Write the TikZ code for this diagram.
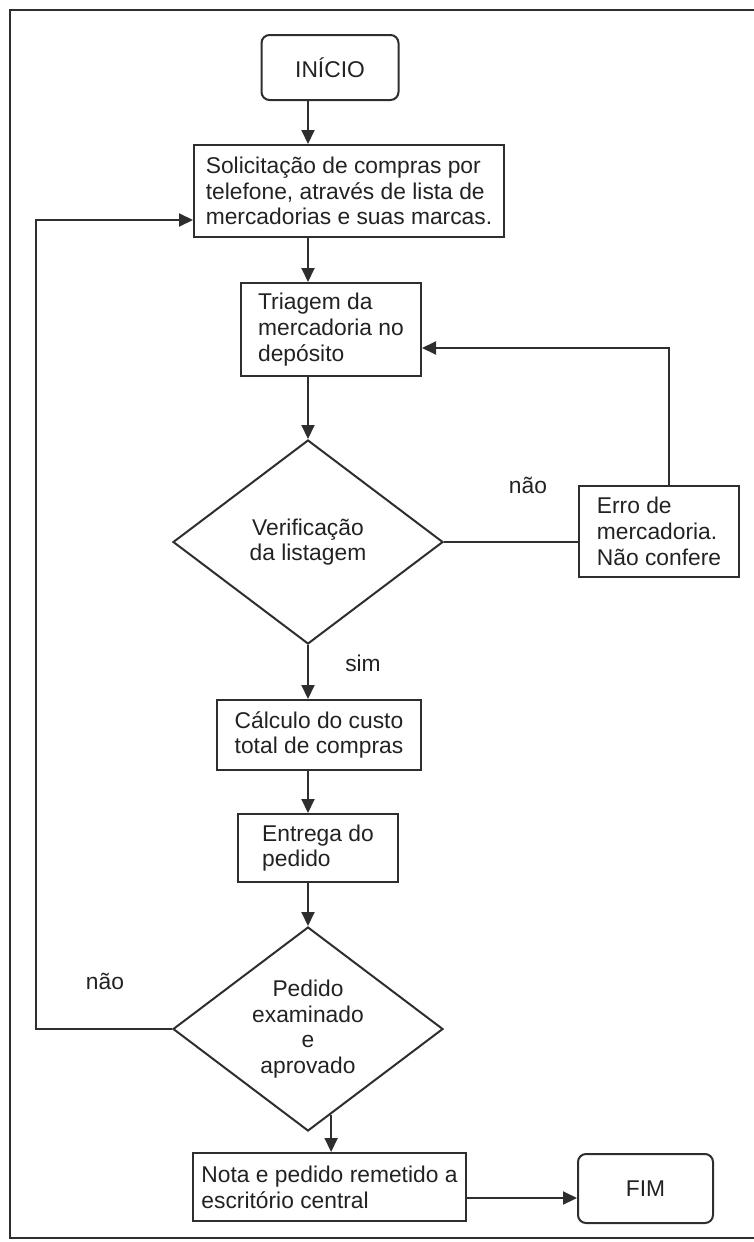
\documentclass[tikz,border=0pt]{standalone}
\usepackage{fontspec}
\setmainfont{Liberation Sans}
\usetikzlibrary{shapes.geometric,arrows.meta,calc}
\definecolor{cinza}{HTML}{2E2E2E}
\definecolor{tinta}{HTML}{222222}
\begin{document}
\begin{tikzpicture}[x=1pt,y=-1pt,
  conector/.style={line width=2pt,draw=cinza},
  seta/.style={conector,-{Triangle[length=14pt,width=13pt]}},
  caixa/.style={draw=cinza,line width=2pt,align=left,inner sep=2pt,text=tinta},
  terminal/.style={caixa,rounded corners=8pt,align=center},
  decisao/.style={draw=cinza,line width=2pt,diamond,aspect=1.32,inner sep=0pt,align=center,text=tinta,minimum width=270pt,minimum height=204pt},
  rotulo/.style={text=tinta},
  font=\fontsize{22.8}{25.8}\selectfont]
	\useasboundingbox (0,0) rectangle (754,1242);
	\draw[draw=cinza,line width=2.5pt] (754,10) -- (10,10) -- (10,1238) -- (754,1238);
	
	\node[terminal,minimum width=137pt,minimum height=65pt] (inicio) at (330,67.5) {INÍCIO};
	\node[caixa,minimum width=310pt,minimum height=92pt] (solic) at (349,191) {Solicitação de compras por\\telefone, através de lista de\\mercadorias e suas marcas.};
	\node[caixa,minimum width=180pt,minimum height=93pt] (triagem) at (331,329.5) {Triagem da\\mercadoria no\\depósito};
	\node[decisao] (verif) at (308,542) {Verificação\\da listagem};
	\node[caixa,minimum width=160pt,minimum height=91pt] (erro) at (659,531.5) {Erro de\\mercadoria.\\Não confere};
	\node[caixa,minimum width=204pt,minimum height=70pt] (calculo) at (319,735) {Cálculo do custo\\total de compras};
	\node[caixa,minimum width=160pt,minimum height=68pt] (entrega) at (318,848) {Entrega do\\pedido};
	\node[decisao] (pedido) at (308,1029) {Pedido\\examinado\\e\\aprovado};
	\node[caixa,minimum width=273pt,minimum height=68pt] (nota) at (329.5,1187) {Nota e pedido remetido a\\escritório central};
	\node[terminal,minimum width=135pt,minimum height=69pt] (fim) at (645.5,1188.5) {FIM};
	
	\node[rotulo] (nao1) at (528,485) {não};
	\node[rotulo] (sim) at (363,663) {sim};
	\node[rotulo] (nao2) at (105,981) {não};
	
	\draw[seta] (inicio.south -| verif) -- (solic.north -| verif);
	\draw[seta] (solic.south -| verif) -- (triagem.north -| verif);
	\draw[seta] (triagem.south -| verif) -- (verif.north);
	\draw[conector] (verif.east) -- (verif.east -| erro.west);
	\draw[seta] ([xshift=10pt]erro.north) |- ([yshift=-18.5pt]triagem.east);
	\draw[seta] (verif.south) -- (calculo.north -| verif);
	\draw[seta] (calculo.south -| verif) -- (entrega.north -| verif);
	\draw[seta] (entrega.south -| verif) -- (pedido.north);
	\coordinate (volta) at (36,1029);
	\draw[seta] (pedido.west) -- (volta) |- ([yshift=-29pt]solic.west);
	\coordinate (saida) at ($(pedido.south)!0.17!(pedido.east)$);
	\draw[seta] (saida) -- (saida |- nota.north);
	\draw[seta] ([yshift=-11pt]nota.east) -- ([yshift=-11pt]nota.east -| fim.west);
\end{tikzpicture}
\end{document}
